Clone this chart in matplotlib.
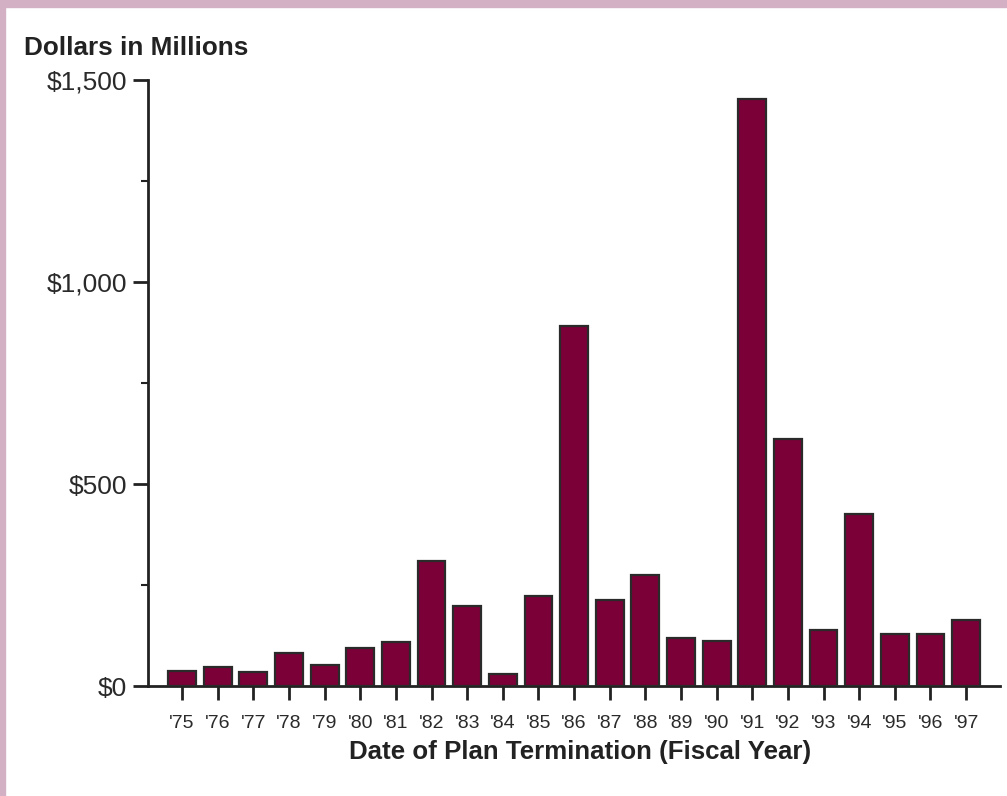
import matplotlib
matplotlib.use("Agg")
import matplotlib.pyplot as plt
from matplotlib.patches import Rectangle
from matplotlib.ticker import MultipleLocator, FuncFormatter

plt.rcParams['font.family'] = ['Liberation Sans', 'DejaVu Sans']

# fiscal year of plan termination and claims (dollars in millions)
years = ["'75", "'76", "'77", "'78", "'79", "'80", "'81", "'82", "'83", "'84", "'85", "'86",
         "'87", "'88", "'89", "'90", "'91", "'92", "'93", "'94", "'95", "'96", "'97"]
claims = [38, 48, 35, 82, 52, 93, 109, 310, 199, 30, 223, 891,
          213, 275, 119, 112, 1453, 611, 138, 426, 129, 129, 163]

W, H = 1007, 796
fig = plt.figure(figsize=(W / 100, H / 100), dpi=100)
fig.patch.set_facecolor('white')

# pink frame along the top and left edge
border = '#d4b0c4'
fig.patches.append(Rectangle((0, 0), 5 / W, 1, transform=fig.transFigure, color=border, zorder=0))
fig.patches.append(Rectangle((0, 1 - 7 / H), 1, 7 / H, transform=fig.transFigure, color=border, zorder=0))

ax = fig.add_axes([148 / W, (H - 686) / H, (1000 - 148) / W, (686 - 80) / H])
xx = range(len(years))
ax.bar(xx, claims, width=0.78, color='#7a0037', edgecolor='#2a2a2a', linewidth=1.6, zorder=3)

ax.set_xlim(-0.955, 22.95)
ax.set_ylim(0, 1500)
ax.set_xticks(list(xx))
ax.set_xticklabels(years)
ax.yaxis.set_major_locator(MultipleLocator(500))
ax.yaxis.set_minor_locator(MultipleLocator(250))
ax.yaxis.set_major_formatter(FuncFormatter(lambda v, p: '${:,.0f}'.format(v)))

for side in ['top', 'right']:
    ax.spines[side].set_visible(False)
for side in ['left', 'bottom']:
    ax.spines[side].set_color('#222222')
    ax.spines[side].set_linewidth(2)

ax.tick_params(axis='y', which='major', length=11, width=2, color='#222222',
               labelsize=19, labelcolor='#2a2a2a', pad=4)
ax.tick_params(axis='y', which='minor', length=5, width=1.5, color='#222222')
ax.tick_params(axis='x', length=10, width=2, color='#222222', direction='out',
               labelsize=14, labelcolor='#2a2a2a', pad=11)
for lbl in ax.get_yticklabels():
    lbl.set_verticalalignment('center_baseline')

fig.text(24 / W, 1 - 48 / H, 'Dollars in Millions', fontsize=18.8, fontweight='bold',
         color='#222222', ha='left', va='center')
fig.text(580 / W, 1 - 752 / H, 'Date of Plan Termination (Fiscal Year)', fontsize=18.6,
         fontweight='bold', color='#222222', ha='center', va='center')

fig.savefig('out.png', dpi=100)
